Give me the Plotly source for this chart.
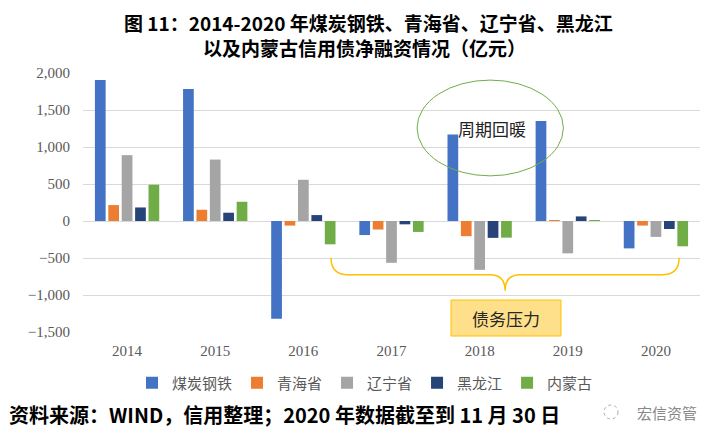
import plotly.graph_objects as go

years = ["2014", "2015", "2016", "2017", "2018", "2019", "2020"]
series_names = ["煤炭钢铁", "青海省", "辽宁省", "黑龙江", "内蒙古"]
coal_steel = [1905, 1785, -1320, -190, 1170, 1350, -370]
qinghai = [215, 152, -62, -115, -205, 5, -62]
liaoning = [890, 830, 557, -565, -660, -437, -215]
heilongjiang = [183, 112, 80, -45, -228, 62, -108]
neimenggu = [490, 260, -315, -148, -225, 3, -342]
colors = ["#4472C4", "#ED7D31", "#A5A5A5", "#264478", "#70AD47"]
y_range = [-1500, 2000]
y_ticks = [-1500, -1000, -500, 0, 500, 1000, 1500, 2000]

values = [coal_steel, qinghai, liaoning, heilongjiang, neimenggu]

# page offset from default body margin
OFF = 8
PL, PR, PT, PB = 83, 700, 73, 332   # plot area in page pixels
W, H = 719 - OFF, 448 - OFF
ML, MT = PL - OFF, PT - OFF
MR, MB = W - (PR - OFF), H - (PB - OFF)
PW, PH = PR - PL, PB - PT

fig = go.Figure()
for name, vals, c in zip(series_names, values, colors):
    fig.add_trace(go.Bar(x=years, y=vals, name=name, marker=dict(color=c, line=dict(width=0))))

n = len(years)
def xp(i):
    return (i + 0.5) / n
def yp(v):
    return (v - y_range[0]) / (y_range[1] - y_range[0])
def px(x):
    return (x - PL) / PW
def py(y):
    return (PB - y) / PH

def note(x, y, text, size, color, xanchor="center", bold=False):
    fig.add_annotation(xref="paper", yref="paper", x=x, y=y, xanchor=xanchor, yanchor="middle",
                       text=f"<b>{text}</b>" if bold else text, showarrow=False, borderpad=0,
                       font=dict(family="Noto Sans CJK SC", size=size, color=color))

# ellipse "周期回暖"
fig.add_shape(type="circle", xref="paper", yref="paper",
              x0=xp(3.29), x1=xp(4.95), y0=yp(610), y1=yp(1904),
              line=dict(color="#70AD47", width=1))
note(px(492), py(128), "周期回暖", 17, "#222222")

# brace
pts = [(2.314, -495), (2.507, -725), (4.118, -725), (4.289, -941), (4.459, -725), (6.07, -725), (6.263, -495)]
P = [(xp(a), yp(b)) for a, b in pts]
path = (f"M {P[0][0]},{P[0][1]} Q {P[0][0]},{P[1][1]} {P[1][0]},{P[1][1]} "
        f"L {P[2][0]},{P[2][1]} Q {P[3][0]},{P[2][1]} {P[3][0]},{P[3][1]} "
        f"Q {P[3][0]},{P[4][1]} {P[4][0]},{P[4][1]} L {P[5][0]},{P[5][1]} "
        f"Q {P[6][0]},{P[5][1]} {P[6][0]},{P[6][1]}")
fig.add_shape(type="path", xref="paper", yref="paper", path=path,
              line=dict(color="#FFC000", width=1.5))

# box 债务压力
fig.add_shape(type="rect", xref="paper", yref="paper",
              x0=px(451), x1=px(561), y0=py(336), y1=py(300),
              fillcolor="#FFE08A", line=dict(color="#FFC000", width=1))
note((px(451) + px(561)) / 2, (py(336) + py(300)) / 2, "债务压力", 17, "#262626")

# title
note(px(368), py(23), "图 11：2014-2020 年煤炭钢铁、青海省、辽宁省、黑龙江", 19, "#000000", bold=True)
note(px(364), py(48), "以及内蒙古信用债净融资情况（亿元）", 19, "#000000", bold=True)

# footnote
note(px(8), py(414), "资料来源：WIND，信用整理；2020 年数据截至到 11 月 30 日", 20, "#000000", xanchor="left", bold=True)
# watermark
fig.add_shape(type="circle", xref="paper", yref="paper", x0=px(604), x1=px(618), y0=py(419), y1=py(405),
              line=dict(color="#AAAAAA", width=1, dash="dot"))
note(px(667), py(412), "宏信资管", 15, "#888888")

fig.update_layout(
    width=W, height=H,
    margin=dict(l=ML, r=MR, t=MT, b=MB, autoexpand=False),
    paper_bgcolor="white", plot_bgcolor="white",
    barmode="group", bargap=0.24, bargroupgap=0.2,
    showlegend=True,
    legend=dict(orientation="h", x=px(365), xanchor="center", y=py(383), yanchor="middle",
                font=dict(family="Noto Sans CJK SC", size=15, color="#595959"),
                itemwidth=30, tracegroupgap=0, traceorder="normal"),
    font=dict(family="Liberation Serif", color="#595959"),
)
fig.update_xaxes(type="category", showgrid=False, showline=False, ticks="", zeroline=False,
                 ticklabelstandoff=8,
                 tickfont=dict(family="Liberation Serif", size=15, color="#595959"))
fig.update_yaxes(range=y_range, tickvals=y_ticks, tickformat=",", showgrid=True,
                 gridcolor="#D9D9D9", gridwidth=1, zeroline=True, zerolinecolor="#D9D9D9",
                 zerolinewidth=1, showline=False, ticks="", ticklabelstandoff=12,
                 tickfont=dict(family="Liberation Serif", size=15, color="#595959"))

fig.write_html("out.html")
